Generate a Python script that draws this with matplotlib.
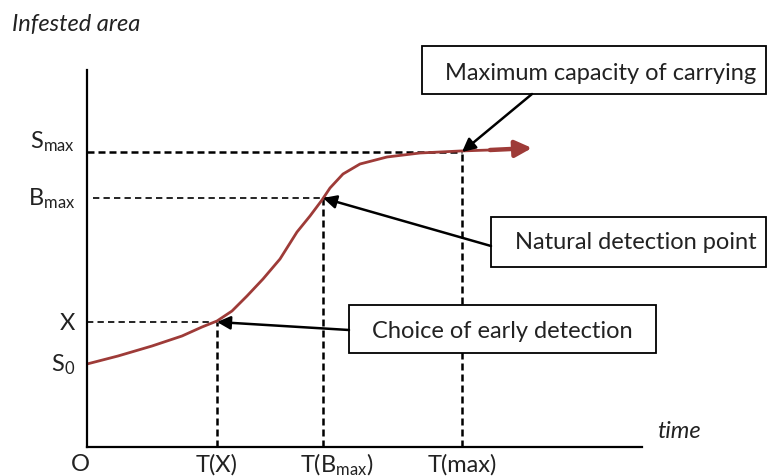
import matplotlib
matplotlib.use("Agg")
import matplotlib.pyplot as plt
from matplotlib.patches import Rectangle

plt.rcParams["font.family"] = ["Lato", "DejaVu Sans"]
plt.rcParams["mathtext.fontset"] = "custom"
plt.rcParams["mathtext.rm"] = "Lato"
plt.rcParams["mathtext.it"] = "Lato:italic"

# ── data (time / infested area, arbitrary units) ─────────────────────────────
T_X, T_B, T_MAX = 13.0, 23.6, 37.5
S0, X, B_MAX, S_MAX = 8.3, 12.5, 24.9, 29.5

curve_t = [0.0, 3.1, 6.5, 9.5, 11.5, 13.0, 14.5, 16.0, 17.6, 19.3, 21.0,
           22.3, 23.5, 24.3, 25.6, 27.3, 30.0, 33.3, 37.3, 40.3]
curve_s = [8.3, 9.1, 10.1, 11.1, 12.0, 12.6, 13.6, 15.1, 16.8, 18.8, 21.5,
           23.1, 24.7, 25.9, 27.3, 28.3, 29.0, 29.4, 29.6, 29.7]
arrow_tip = (44.5, 29.9)

x_ticks = [0.0, T_X, T_B, T_MAX]
x_labels = ["O", "T(X)", r"T($\mathregular{B_{max}}$)", "T(max)"]
y_ticks = [S0, X, B_MAX, S_MAX]
y_labels = [r"$\mathregular{S_0}$", "X", r"$\mathregular{B_{max}}$",
            r"$\mathregular{S_{max}}$"]

boxes = [
    ("Maximum capacity of carrying", (33.5, 35.3, 34.4, 4.8), (51.4, 37.5),
     (44.5, 35.3), (T_MAX, S_MAX)),
    ("Natural detection point", (40.4, 18.0, 27.5, 5.0), (54.9, 20.5),
     (40.4, 20.1), (T_B, B_MAX)),
    ("Choice of early detection", (26.2, 9.4, 30.7, 4.8), (41.5, 11.7),
     (26.2, 11.7), (T_X, X)),
]

RED = "#9E3B38"
FS = 17

fig = plt.figure(figsize=(7.67, 4.77), dpi=100)
ax = fig.add_axes([87 / 767, 29 / 477, 555 / 767, 377 / 477])
ax.set_xlim(0, 55.5)
ax.set_ylim(0, 37.7)
for s in ("top", "right"):
    ax.spines[s].set_visible(False)
for s in ("left", "bottom"):
    ax.spines[s].set_linewidth(1.6)
ax.set_xticks([])
ax.set_yticks([])

# dashed guides
ax.plot([0, T_MAX], [S_MAX, S_MAX], color="black", lw=1.8, dashes=(2.8, 1.6), clip_on=False)
ax.plot([0.6, T_B + 1.2], [B_MAX, B_MAX], color="black", lw=1.2, dashes=(3.8, 2.5), clip_on=False)
ax.plot([0, T_X], [X, X], color="black", lw=1.2, dashes=(3.8, 2.5), clip_on=False)
for t, s in [(T_X, X), (T_B, B_MAX), (T_MAX, S_MAX)]:
    ax.plot([t, t], [0, s], color="black", lw=1.8, dashes=(2.8, 1.6), clip_on=False)

# growth curve
ax.plot(curve_t, curve_s, color=RED, lw=2.0, solid_capstyle="butt",
        solid_joinstyle="round", clip_on=False)
ax.annotate("", xy=arrow_tip, xytext=(curve_t[-1], curve_s[-1]),
            arrowprops=dict(arrowstyle="-|>", color=RED, lw=3.2,
                            mutation_scale=25, shrinkA=0, shrinkB=0))

# callout boxes
for text, (bx, by, bw, bh), (tx, ty), start, end in boxes:
    ax.add_patch(Rectangle((bx, by), bw, bh, facecolor="white",
                           edgecolor="black", lw=1.3, clip_on=False, zorder=3))
    ax.text(tx, ty, text, ha="center", va="center", fontsize=FS,
            color="#222222", zorder=4)
    ax.annotate("", xy=end, xytext=start,
                arrowprops=dict(arrowstyle="-|>", color="black", lw=1.8,
                                mutation_scale=20, shrinkA=0, shrinkB=0),
                zorder=5)

# axis labels
for t, lab in zip(x_ticks, x_labels):
    dx = 1.4 if "B" in lab else 0.0
    if t == 0:
        dx = -0.7
    ax.text(t + dx, -1.7, lab, ha="center", va="center", fontsize=FS,
            color="#222222")
for s, lab in zip(y_ticks, y_labels):
    dy = 1.1 if s == S_MAX else 0.0
    ax.text(-1.2, s + dy, lab, ha="right", va="center", fontsize=FS,
            color="#222222")

fig.text(12 / 767, 1 - 25 / 477, "Infested area", fontsize=FS, style="italic",
         va="center", color="#222222")
fig.text(657 / 767, 1 - 432 / 477, "time", fontsize=FS, style="italic",
         va="center", color="#222222")

fig.savefig("out.png", dpi=100)
